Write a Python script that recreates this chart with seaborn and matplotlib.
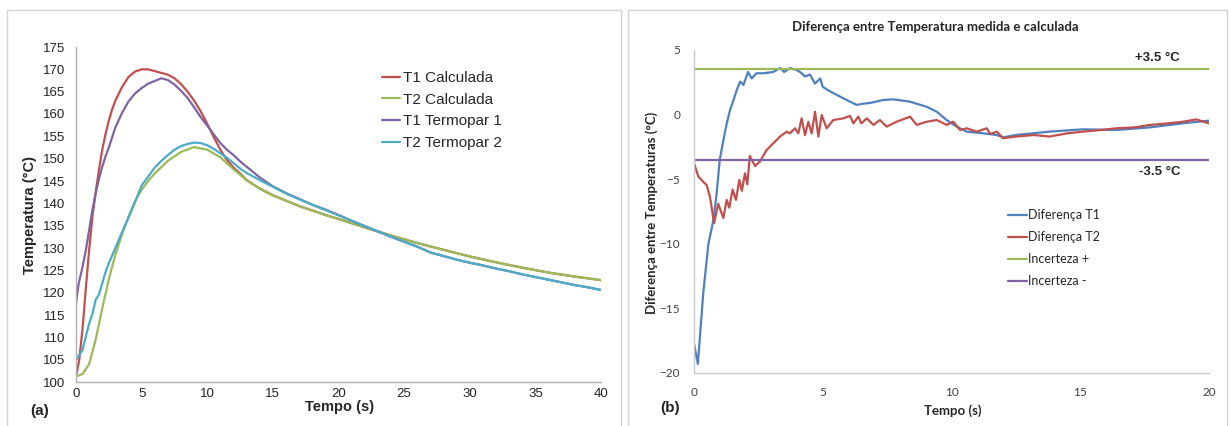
import matplotlib
matplotlib.use('Agg')
import matplotlib.pyplot as plt
from matplotlib.patches import Rectangle
import seaborn as sns

# ---- panel (a): temperatures over time ----
t_t1_calc = [0, 0.25, 0.5, 0.75, 1, 1.25, 1.5, 1.75, 2, 2.25, 2.5, 2.75, 3, 3.5, 4, 4.5, 5, 5.5,
             6, 6.5, 7, 7.5, 8, 8.5, 9, 9.5, 10, 10.5, 11, 11.5, 12, 12.5, 13, 14, 15, 16, 17, 18,
             19, 20, 22, 24, 26, 28, 30, 32, 34, 36, 38, 40]
t1_calc = [101.2, 105, 112, 121, 129.5, 137, 142.5, 147.5, 152, 155.5, 158.5, 161, 163, 166, 168.3,
           169.5, 170, 170, 169.6, 169.2, 168.8, 168, 166.7, 165, 163, 160.6, 157.8, 154.8, 152,
           149.7, 148, 146.7, 145.2, 143.3, 141.8, 140.6, 139.4, 138.4, 137.4, 136.5, 134.6, 132.8,
           131.1, 129.6, 128.1, 126.8, 125.6, 124.5, 123.6, 122.8]

t_t2_calc = [0, 0.5, 1, 1.5, 2, 2.5, 3, 3.5, 4, 4.5, 5, 5.5, 6, 7, 8, 9, 10, 11, 12, 13, 14, 15,
             16, 17, 18, 19, 20, 22, 24, 26, 28, 30, 32, 34, 36, 38, 40]
t2_calc = [101.2, 101.8, 104, 109.5, 116.5, 123, 128.5, 133, 137, 140.5, 143, 145, 146.7, 149.5,
           151.5, 152.6, 152, 150.3, 147.6, 145.2, 143.3, 141.8, 140.6, 139.4, 138.4, 137.4, 136.5,
           134.6, 132.8, 131.1, 129.6, 128.1, 126.8, 125.6, 124.5, 123.6, 122.8]

t_tp1 = [0, 0.2, 0.5, 0.75, 1, 1.25, 1.5, 1.75, 2, 2.25, 2.5, 3, 3.5, 4, 4.5, 5, 5.5, 6, 6.5, 7,
         7.5, 8, 8.5, 9, 9.5, 10, 10.5, 11, 11.5, 12, 12.5, 13, 14, 15, 16, 17, 18, 19, 20, 21, 22,
         23, 24, 25, 26, 27, 28, 29, 30, 31, 32, 33, 34, 35, 36, 37, 38, 39, 40]
tp1 = [117.6, 122, 125.8, 129.5, 134, 138.5, 142.2, 145.5, 148.2, 150.5, 152.5, 157, 160.2, 162.8,
       164.6, 165.8, 166.8, 167.4, 168, 167.6, 166.6, 165.2, 163.6, 161.5, 159.3, 157.4, 155.4,
       153.5, 152, 150.8, 149.4, 148.2, 145.8, 143.8, 142.3, 141, 139.7, 138.6, 137.4, 136.1,
       134.9, 133.7, 132.5, 131.4, 130.3, 129, 128.2, 127.4, 126.7, 126.1, 125.4, 124.8, 124.1,
       123.5, 122.9, 122.3, 121.7, 121.2, 120.6]

t_tp2 = [0, 0.5, 1, 1.25, 1.5, 1.75, 2, 2.25, 2.5, 3, 3.5, 4, 4.5, 5, 5.5, 6, 6.5, 7, 7.5, 8, 8.5,
         9, 9.5, 10, 10.5, 11, 11.5, 12, 12.5, 13, 13.5, 14, 15, 16, 17, 18, 19, 20, 21, 22, 23, 24,
         25, 26, 27, 28, 29, 30, 31, 32, 33, 34, 35, 36, 37, 38, 39, 40]
tp2 = [104.9, 107.2, 113.1, 115.2, 118.4, 119.6, 122.1, 124.6, 126.6, 130, 133.5, 136.8, 140.3, 144,
       146, 148, 149.5, 150.8, 152, 152.8, 153.3, 153.6, 153.5, 153, 152.2, 151.2, 150.2, 149,
       147.8, 146.8, 146, 145.2, 143.7, 142.2, 140.9, 139.7, 138.5, 137.3, 136.1, 134.9, 133.7,
       132.5, 131.4, 130.3, 129, 128.2, 127.4, 126.7, 126.1, 125.4, 124.8, 124.1, 123.5, 122.9,
       122.3, 121.7, 121.2, 120.6]

# ---- panel (b): differences ----
t_d1 = [0, 0.15, 0.36, 0.56, 0.75, 0.88, 1.0, 1.14, 1.27, 1.4, 1.53, 1.66, 1.79, 1.92, 2.1, 2.24,
        2.43, 2.69, 3.08, 3.34, 3.5, 3.73, 3.98, 4.12, 4.31, 4.5, 4.7, 4.9, 5.0, 5.28, 5.67, 6.06,
        6.32, 6.58, 6.84, 7.35, 7.74, 8.39, 9.04, 9.43, 9.81, 10.2, 10.59, 11.24, 11.76, 12.0,
        12.5, 13.8, 15.1, 16.4, 17.7, 19.0, 20]
dif_t1 = [-17.7, -19.3, -13.8, -10.0, -8.2, -6.1, -3.5, -2.0, -0.7, 0.35, 1.1, 1.9, 2.55, 2.3, 3.3,
          2.8, 3.2, 3.2, 3.3, 3.6, 3.3, 3.6, 3.45, 3.3, 2.95, 3.1, 2.4, 2.8, 2.15, 1.8, 1.4, 1.0,
          0.75, 0.85, 0.9, 1.13, 1.18, 1.0, 0.6, 0.22, -0.42, -0.93, -1.32, -1.45, -1.58, -1.76,
          -1.58, -1.32, -1.14, -1.19, -0.99, -0.67, -0.47]

t_d2 = [0, 0.17, 0.36, 0.49, 0.62, 0.78, 0.94, 1.14, 1.27, 1.37, 1.5, 1.63, 1.76, 1.86, 1.98, 2.07,
        2.17, 2.37, 2.56, 2.82, 3.08, 3.34, 3.6, 3.73, 3.92, 4.05, 4.18, 4.31, 4.44, 4.57, 4.7,
        4.83, 4.96, 5.15, 5.41, 5.8, 6.06, 6.19, 6.38, 6.5, 6.71, 6.97, 7.22, 7.48, 7.87, 8.39,
        8.65, 9.04, 9.43, 9.81, 10.07, 10.33, 10.59, 10.98, 11.37, 11.5, 11.76, 12.0, 12.5, 13.2,
        13.8, 14.5, 15.1, 15.8, 16.4, 17.1, 17.7, 18.4, 19.0, 19.5, 20]
dif_t2 = [-3.77, -4.8, -5.2, -5.45, -6.35, -8.4, -6.9, -8.0, -6.6, -7.2, -5.8, -6.6, -5.06, -5.9,
          -4.54, -5.4, -3.2, -3.98, -3.64, -2.74, -2.22, -1.7, -1.32, -1.45, -1.06, -1.45, -0.29,
          -1.6, -0.55, -1.45, 0.22, -1.7, -0.03, -1.06, -0.42, -0.29, -0.1, -0.68, -0.16, -0.68,
          -0.29, -0.8, -0.42, -0.93, -0.55, -0.16, -0.8, -0.55, -0.42, -0.8, -0.55, -1.19, -1.06,
          -1.32, -1.06, -1.5, -1.32, -1.83, -1.7, -1.58, -1.7, -1.45, -1.32, -1.19, -1.06, -0.99,
          -0.8, -0.68, -0.55, -0.37, -0.68]

t_unc = [0, 20]
unc_plus = [3.5, 3.5]
unc_minus = [-3.5, -3.5]

sns.set_style('white')
W, H = 1230, 426
fig = plt.figure(figsize=(W / 100, H / 100), dpi=100)


def fx(px):
    return px / W


def fy(py):
    return 1 - py / H


# panel frames
for x0, x1 in [(7, 621), (628, 1227)]:
    fig.add_artist(Rectangle((fx(x0), -0.01), fx(x1) - fx(x0), fy(10) + 0.01,
                             transform=fig.transFigure, fill=False, ec='#D4D4D4', lw=1))

# ---------------- (a) ----------------
arial = 'Liberation Sans'
ax1 = fig.add_axes([fx(76), fy(382), fx(601) - fx(76), fy(47) - fy(382)])
sns.lineplot(x=t_t1_calc, y=t1_calc, ax=ax1, color='#C0504D', lw=1.6, label='T1 Calculada')
sns.lineplot(x=t_t2_calc, y=t2_calc, ax=ax1, color='#9BBB59', lw=1.6, label='T2 Calculada')
sns.lineplot(x=t_tp1, y=tp1, ax=ax1, color='#8064A2', lw=1.6, label='T1 Termopar 1')
sns.lineplot(x=t_tp2, y=tp2, ax=ax1, color='#4BACC6', lw=1.6, label='T2 Termopar 2')
ax1.set_xlim(0, 40)
ax1.set_ylim(100, 175)
ax1.set_xticks(range(0, 41, 5))
ax1.set_yticks(range(100, 176, 5))
ax1.set_xlabel('')
ax1.set_ylabel('')
for lab in ax1.get_xticklabels() + ax1.get_yticklabels():
    lab.set_family(arial)
    lab.set_fontsize(9.5)
    lab.set_color('#222222')
ax1.tick_params(length=0, pad=8)
ax1.tick_params(axis='x', pad=4)
for s in ['top', 'right']:
    ax1.spines[s].set_visible(False)
for s in ['left', 'bottom']:
    ax1.spines[s].set_color('#B0B0B0')
    ax1.spines[s].set_linewidth(1)
ax1.legend(loc='upper left', bbox_to_anchor=(fx(382), fy(71)), bbox_transform=fig.transFigure,
           frameon=False, prop={'family': arial, 'size': 11}, handlelength=1.2,
           handletextpad=0.15, labelspacing=0.5, borderpad=0, borderaxespad=0)

fig.text(fx(30), fy(215), 'Temperatura (°C)', rotation=90, ha='center', va='center',
         family=arial, fontsize=10.5, fontweight='bold')
fig.text(fx(340), fy(407), 'Tempo (s)', ha='center', va='center',
         family=arial, fontsize=10.5, fontweight='bold')
fig.text(fx(30), fy(411), '(a)', ha='left', va='center',
         family=arial, fontsize=11, fontweight='bold')

# ---------------- (b) ----------------
cal = 'Lato'
ax2 = fig.add_axes([fx(694), fy(373), fx(1209) - fx(694), fy(50) - fy(373)])
sns.lineplot(x=t_d1, y=dif_t1, ax=ax2, color='#4F81BD', lw=1.6, label='Diferença T1')
sns.lineplot(x=t_d2, y=dif_t2, ax=ax2, color='#C0504D', lw=1.6, label='Diferença T2')
sns.lineplot(x=t_unc, y=unc_plus, ax=ax2, color='#9BBB59', lw=1.6, label='Incerteza +')
sns.lineplot(x=t_unc, y=unc_minus, ax=ax2, color='#8064A2', lw=1.6, label='Incerteza -')
ax2.set_xlim(0, 20)
ax2.set_ylim(-20, 5)
ax2.set_xticks(range(0, 21, 5))
ax2.set_yticks(range(-20, 6, 5))
ax2.set_xlabel('')
ax2.set_ylabel('')
for lab in ax2.get_xticklabels() + ax2.get_yticklabels():
    lab.set_family(cal)
    lab.set_fontsize(8.5)
    lab.set_color('#404040')
ax2.tick_params(length=0, pad=10)
for s in ['top', 'right']:
    ax2.spines[s].set_visible(False)
for s in ['left', 'bottom']:
    ax2.spines[s].set_color('#C8C8C8')
    ax2.spines[s].set_linewidth(1)
ax2.legend(loc='upper left', bbox_to_anchor=(fx(1008), fy(209)), bbox_transform=fig.transFigure,
           frameon=False, prop={'family': cal, 'size': 9}, handlelength=1.5,
           handletextpad=0.1, labelspacing=0.8, borderpad=0, borderaxespad=0)

fig.text(fx(935), fy(27), 'Diferença entre Temperatura medida e calculada', ha='center',
         va='center', family=cal, fontsize=9.5, fontweight='bold')
fig.text(fx(652), fy(213), 'Diferença entre Temperaturas (°C)', rotation=90, ha='center',
         va='center', family=cal, fontsize=9.5, fontweight='bold')
fig.text(fx(953), fy(411), 'Tempo (s)', ha='center', va='center',
         family=cal, fontsize=9.5, fontweight='bold')
fig.text(fx(660), fy(408), '(b)', ha='left', va='center',
         family=arial, fontsize=11, fontweight='bold')
fig.text(fx(1157), fy(58), '+3.5 °C', ha='center', va='center',
         family=arial, fontsize=9.5, fontweight='bold')
fig.text(fx(1160), fy(172), '-3.5 °C', ha='center', va='center',
         family=arial, fontsize=9.5, fontweight='bold')

fig.savefig('out.png', dpi=100, facecolor='white')
